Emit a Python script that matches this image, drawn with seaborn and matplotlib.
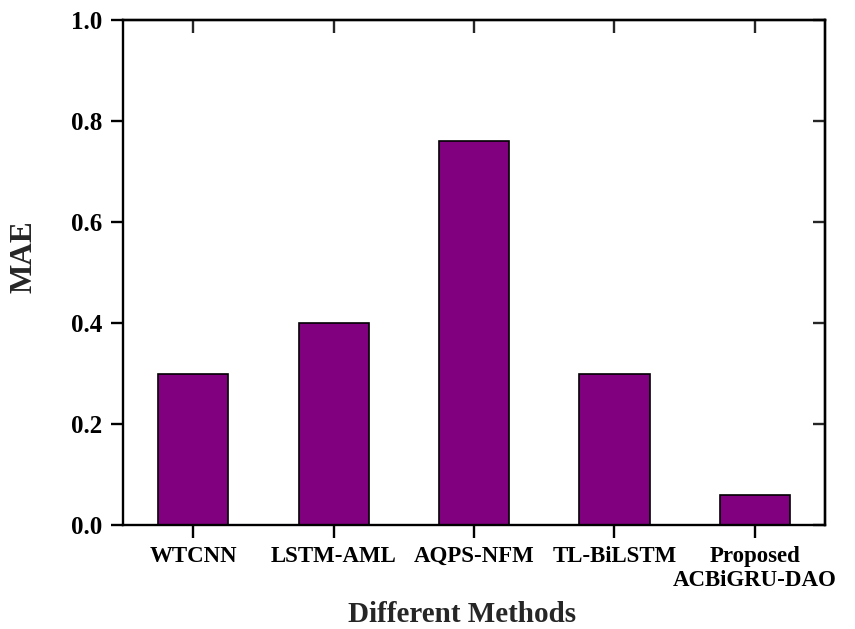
import matplotlib
matplotlib.use("Agg")
import matplotlib.pyplot as plt
import pandas as pd
import seaborn as sns

# Chart data
METHODS = ["WTCNN", "LSTM-AML", "AQPS-NFM", "TL-BiLSTM", "Proposed\nACBiGRU-DAO"]
MAE = [0.30, 0.40, 0.76, 0.30, 0.06]
Y_TICKS = [0.0, 0.2, 0.4, 0.6, 0.8, 1.0]

BAR_COLOR = "#800080"

sns.set_style("ticks")
plt.rcParams.update({
    "font.family": ["Liberation Serif", "DejaVu Serif"],
    "font.weight": "bold",
    "axes.linewidth": 1.7,
    "axes.labelweight": "bold",
})

df = pd.DataFrame({"method": METHODS, "mae": MAE})

fig = plt.figure(figsize=(8.55, 6.29), dpi=100)
ax = fig.add_axes([0.1439, 0.1653, 0.9649 - 0.1439, 0.9682 - 0.1653])

sns.barplot(data=df, x="method", y="mae", order=METHODS, color=BAR_COLOR,
            saturation=1, width=0.5, edgecolor="black", linewidth=1.2, ax=ax)

ax.set_ylim(0, 1.0)
ax.set_xlim(-0.5, len(METHODS) - 0.5)
ax.set_yticks(Y_TICKS)
ax.set_yticklabels([f"{t:.1f}" for t in Y_TICKS])

for side in ["top", "right", "left", "bottom"]:
    ax.spines[side].set_visible(True)
    ax.spines[side].set_color("black")
    ax.spines[side].set_linewidth(1.7)

ax.tick_params(axis="both", which="major", direction="out", length=9, width=1.7,
               colors="black")
ax.tick_params(axis="x", labelsize=16.5, pad=6)
ax.tick_params(axis="y", labelsize=18, pad=6)

# mirrored inward ticks on top and right
top = ax.secondary_xaxis("top")
top.set_xticks(range(len(METHODS)))
top.tick_params(direction="in", length=9, width=1.7, labeltop=False)
top.spines["top"].set_linewidth(1.7)
right = ax.secondary_yaxis("right")
right.set_yticks(Y_TICKS)
right.tick_params(direction="in", length=9, width=1.7, labelright=False)
right.spines["right"].set_linewidth(1.7)

ax.set_xlabel("Different Methods", fontsize=21, fontweight="bold")
ax.set_ylabel("MAE", fontsize=22.5, fontweight="bold")
ax.xaxis.set_label_coords(0.4836, -0.150)
ax.yaxis.set_label_coords(-0.120, 0.531)

for lbl in ax.get_xticklabels() + ax.get_yticklabels():
    lbl.set_fontweight("bold")

fig.savefig("out.png", dpi=100)
